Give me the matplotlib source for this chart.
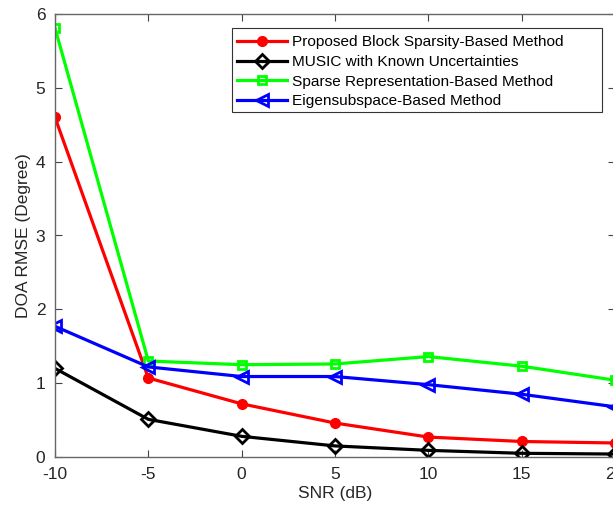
import numpy as np
import matplotlib
matplotlib.use('Agg')
import matplotlib.pyplot as plt
from matplotlib.patches import Rectangle

plt.rcParams['font.family'] = ['Liberation Sans', 'DejaVu Sans']
plt.rcParams['axes.unicode_minus'] = False

snr = [-10, -5, 0, 5, 10, 15, 20]
proposed = [4.60, 1.07, 0.72, 0.46, 0.27, 0.21, 0.19]
music = [1.20, 0.51, 0.28, 0.15, 0.09, 0.05, 0.04]
sparse = [5.81, 1.30, 1.25, 1.26, 1.36, 1.23, 1.04]
eigen = [1.77, 1.22, 1.09, 1.09, 0.98, 0.85, 0.68]

labels = ['Proposed Block Sparsity-Based Method',
          'MUSIC with Known Uncertainties',
          'Sparse Representation-Based Method',
          'Eigensubspace-Based Method']

fig = plt.figure(figsize=(6.13, 5.11), dpi=100)
ax = fig.add_axes([55 / 613, 54 / 511, 560 / 613, 443 / 511])

lw = 2.3
ax.plot(snr, proposed, color='#ff0000', lw=lw, marker='o', ms=7,
        mfc='#ff0000', mec='#ff0000', label=labels[0])
ax.plot(snr, music, color='black', lw=lw, marker='D', ms=7,
        mfc='none', mec='black', mew=2, label=labels[1])
ax.plot(snr, sparse, color='#00ff00', lw=lw, marker='s', ms=6,
        mfc='none', mec='#00ff00', mew=2, label=labels[2])
ax.plot(snr, eigen, color='#0000ff', lw=lw, marker='<', ms=9,
        mfc='none', mec='#0000ff', mew=2, label=labels[3])

ax.set_xlim(-10, 20)
ax.set_ylim(0, 6)
ax.set_xticks(np.arange(-10, 21, 5))
ax.set_yticks(np.arange(0, 7, 1))

axis_color = '#262626'
for s in ax.spines.values():
    s.set_color('#666666')
    s.set_linewidth(1.0)
ax.tick_params(direction='in', top=True, right=True, length=5, width=0.8,
               color='#444444', labelcolor=axis_color, labelsize=12.5, pad=7)

ax.set_xlabel('SNR (dB)', fontsize=12.5, color=axis_color, labelpad=3)
ax.set_ylabel('DOA RMSE (Degree)', fontsize=12.5, color=axis_color, labelpad=3)

# legend entries without frame, box drawn separately (wider, matlab-like)
leg = ax.legend(loc='upper left', bbox_to_anchor=(0.316, 0.962), fontsize=11.1,
                frameon=False, handlelength=3.3, handletextpad=0.3,
                borderpad=0.3, labelspacing=0.36, borderaxespad=0.0)
leg.set_zorder(6)
box = Rectangle((0.316, 0.779), 0.661, 0.189, transform=ax.transAxes,
                facecolor='white', edgecolor='#333333', lw=0.8, zorder=5)
ax.add_patch(box)

fig.savefig('out.png', dpi=100)
